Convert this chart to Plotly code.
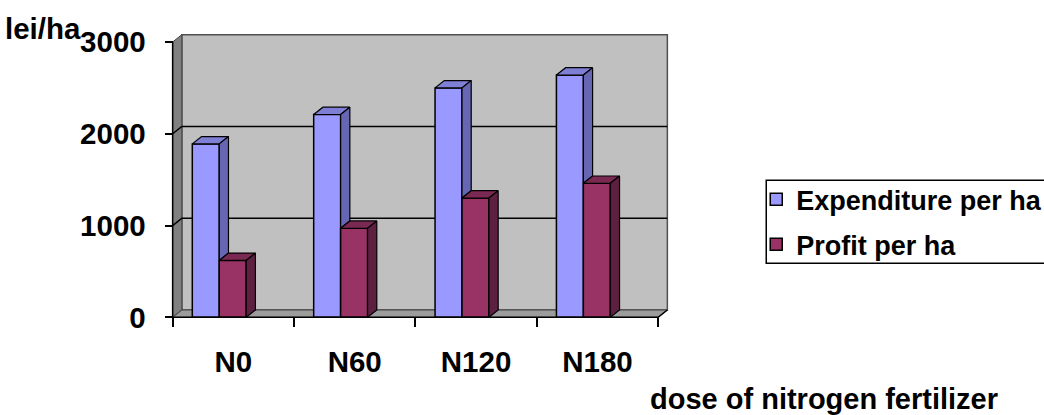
import plotly.graph_objects as go

# ---------------- data ----------------
categories = ["N0", "N60", "N120", "N180"]
expenditure = [1890, 2210, 2500, 2640]
profit = [620, 970, 1300, 1460]
y_ticks = [0, 1000, 2000, 3000]
series_names = ["Expenditure per ha", "Profit per ha"]
y_label = "lei/ha"
x_label = "dose of nitrogen fertilizer"

# ---------------- geometry / style ----------------
W, H = 1044, 415
FONT = "Liberation Sans, Arial, sans-serif"
AX_FS = 29.5
TITLE_FS = 29
LEG_FS = 27
YMAX = y_ticks[-1]
DX, DY = 0.076, 80            # 3-D depth offset in data units
PADX, PADY = 0.03, 40         # small padding so edge lines are not clipped
EXP_OFF, BW = -0.338, 0.222
PRO_OFF = EXP_OFF + BW

n = len(categories)
idx = list(range(n))
xr = [-0.5 - PADX, n - 0.5 + DX + PADX]
yr = [-PADY, YMAX + DY + PADY]

# pixel placement of the front plane (left edge / zero line)
PX_PER_X = 121.25
PX_PER_Y = 91.67 / 1000
front_left_px, zero_px = 173, 317
plot_left = front_left_px - PADX * PX_PER_X
plot_w = (xr[1] - xr[0]) * PX_PER_X
plot_bottom = zero_px + PADY * PX_PER_Y
plot_h = (yr[1] - yr[0]) * PX_PER_Y
plot_top = plot_bottom - plot_h

def px_x(px):
    return (px - plot_left) / plot_w

def px_y(py):
    return (plot_bottom - py) / plot_h

C_EXP = ["#9999FF", "#6666B3", "#7F7FD6"]   # front, side, top
C_PRO = ["#993366", "#5E2040", "#7A2952"]
EDGE = "black"

fig = go.Figure()

# front faces as real bars
fig.add_trace(go.Bar(
    x=idx, y=expenditure, name=series_names[0], offset=EXP_OFF, width=BW,
    marker=dict(color=C_EXP[0], line=dict(color=EDGE, width=1.5)),
    legendgroup="a"))
fig.add_trace(go.Bar(
    x=idx, y=profit, name=series_names[1], offset=PRO_OFF, width=BW,
    marker=dict(color=C_PRO[0], line=dict(color=EDGE, width=1.5)),
    legendgroup="b"))

def poly_trace(xs, ys, color):
    return go.Scatter(x=xs, y=ys, mode="lines", fill="toself", fillcolor=color,
                      line=dict(color=EDGE, width=1.2), hoverinfo="skip",
                      showlegend=False)

# top and side faces computed from the data
etx, ety, esx, esy, ptx, pty, psx, psy = ([] for _ in range(8))
for i in idx:
    E, P = expenditure[i], profit[i]
    a0 = i + EXP_OFF
    a1 = a0 + BW
    b0 = i + PRO_OFF
    b1 = b0 + BW
    etx += [a0, a1, a1 + DX, a0 + DX, a0, None]
    ety += [E, E, E + DY, E + DY, E, None]
    esx += [a1, a1 + DX, a1 + DX, a1, a1, None]
    esy += [E, E + DY, P + DY, P, E, None]
    ptx += [b0, b1, b1 + DX, b0 + DX, b0, None]
    pty += [P, P, P + DY, P + DY, P, None]
    psx += [b1, b1 + DX, b1 + DX, b1, b1, None]
    psy += [P, P + DY, DY, 0, P, None]

fig.add_trace(poly_trace(etx, ety, C_EXP[2]))
fig.add_trace(poly_trace(esx, esy, C_EXP[1]))
fig.add_trace(poly_trace(ptx, pty, C_PRO[2]))
fig.add_trace(poly_trace(psx, psy, C_PRO[1]))

# walls, floor, gridlines
x0, x1 = -0.5, n - 0.5
shapes = []
shapes.append(dict(type="rect", xref="x", yref="y", x0=x0 + DX, x1=x1 + DX, y0=DY, y1=YMAX + DY,
                   fillcolor="#C0C0C0", line=dict(color="#505050", width=1.5), layer="below"))
shapes.append(dict(type="path", xref="x", yref="y",
                   path=f"M{x0},0 L{x0},{YMAX} L{x0+DX},{YMAX+DY} L{x0+DX},{DY} Z",
                   fillcolor="#808080", line=dict(color="#404040", width=1), layer="below"))
shapes.append(dict(type="path", xref="x", yref="y",
                   path=f"M{x0},0 L{x1},0 L{x1+DX},{DY} L{x0+DX},{DY} Z",
                   fillcolor="#9C9C9C", line=dict(color="#404040", width=1), layer="below"))
for v in y_ticks[1:-1]:
    shapes.append(dict(type="path", xref="x", yref="y",
                       path=f"M{x0},{v} L{x0+DX},{v+DY} L{x1+DX},{v+DY}",
                       line=dict(color="black", width=1.5), layer="below"))
# axis lines
shapes.append(dict(type="line", xref="x", yref="y", x0=x0, x1=x0, y0=0, y1=YMAX,
                   line=dict(color="black", width=1.5), layer="above"))
shapes.append(dict(type="path", xref="x", yref="y",
                   path=f"M{x0},0 L{x1},0 L{x1+DX},{DY}",
                   line=dict(color="black", width=1.5), layer="above"))
# legend frame (runs off the right edge like the reference)
shapes.append(dict(type="rect", xref="paper", yref="paper",
                   x0=px_x(766), x1=px_x(1060), y0=px_y(263), y1=px_y(180),
                   fillcolor="white", line=dict(color="black", width=1.5), layer="below"))

fig.update_layout(
    width=W, height=H,
    margin=dict(l=plot_left, r=W - (plot_left + plot_w), t=plot_top, b=H - plot_bottom,
                pad=0, autoexpand=False),
    paper_bgcolor="white", plot_bgcolor="rgba(0,0,0,0)",
    barmode="overlay",
    shapes=shapes,
    font=dict(family=FONT, color="black"),
    showlegend=True,
    legend=dict(x=px_x(756), y=px_y(175), xanchor="left", yanchor="top",
                bgcolor="rgba(0,0,0,0)", borderwidth=0,
                font=dict(family=FONT, size=LEG_FS, weight="bold", color="black"),
                tracegroupgap=7, itemwidth=30),
    xaxis=dict(range=xr, tickvals=idx, ticktext=categories, ticks="",
               showgrid=False, zeroline=False, showline=False,
               anchor="free", position=px_y(zero_px),
               tickfont=dict(family=FONT, size=AX_FS, weight="bold", color="black"),
               ticklabelstandoff=24,
               minor=dict(tickvals=[i - 0.5 for i in range(n + 1)], ticks="outside",
                          ticklen=9, tickwidth=1.5, tickcolor="black", showgrid=False)),
    yaxis=dict(range=yr, tickvals=y_ticks, ticks="outside", ticklen=8, tickwidth=1.5,
               tickcolor="black", showgrid=False, zeroline=False, showline=False,
               anchor="free", position=px_x(front_left_px),
               tickfont=dict(family=FONT, size=AX_FS, weight="bold", color="black"),
               ticklabelstandoff=13),
    annotations=[
        dict(text=y_label, xref="paper", yref="paper", x=px_x(83), y=px_y(28),
             xanchor="right", yanchor="middle", showarrow=False,
             font=dict(family=FONT, size=AX_FS, weight="bold", color="black")),
        dict(text=x_label, xref="paper", yref="paper", x=px_x(648), y=px_y(399),
             xanchor="left", yanchor="middle", showarrow=False,
             font=dict(family=FONT, size=TITLE_FS, weight="bold", color="black")),
    ],
)

fig.write_html("out.html")
